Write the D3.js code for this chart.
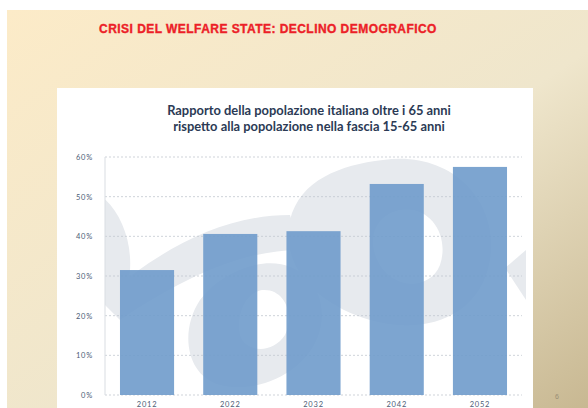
<!DOCTYPE html>
<html>
<head>
<meta charset="utf-8">
<script src="https://cdn.jsdelivr.net/npm/d3@7"></script>
<style>
  body { margin: 0; background: #fff; }
  svg { display: block; }
</style>
</head>
<body>
<svg width="588" height="408"></svg>
<script>
const years = ['2012', '2022', '2032', '2042', '2052'];
const ratios = [0.315, 0.406, 0.413, 0.532, 0.575];
const yTicks = [0, 0.1, 0.2, 0.3, 0.4, 0.5, 0.6];

const svg = d3.select('svg');

// slide background
const defs = svg.append('defs');
const grad = defs.append('linearGradient')
  .attr('id', 'bg')
  .attr('x1', '0%').attr('y1', '0%')
  .attr('x2', '100%').attr('y2', '100%');
grad.append('stop').attr('offset', '0%').attr('stop-color', '#fcebc8');
grad.append('stop').attr('offset', '55%').attr('stop-color', '#efe6cc');
grad.append('stop').attr('offset', '100%').attr('stop-color', '#c8b892');

svg.append('rect')
  .attr('x', 7).attr('y', 10)
  .attr('width', 581).attr('height', 398)
  .attr('fill', 'url(#bg)');

svg.append('text')
  .attr('x', 268)
  .attr('y', 33)
  .attr('text-anchor', 'middle')
  .style('font-family', 'Liberation Sans, Arial, sans-serif')
  .style('font-weight', 'bold')
  .style('font-size', '12px')
  .style('letter-spacing', '0.45px')
  .style('fill', '#ec2027')
  .style('stroke', '#ec2027')
  .style('stroke-width', '0.35px')
  .text('CRISI DEL WELFARE STATE: DECLINO DEMOGRAFICO');

svg.append('text')
  .attr('x', 557)
  .attr('y', 399)
  .attr('text-anchor', 'middle')
  .style('font-family', 'Liberation Sans, Arial, sans-serif')
  .style('font-size', '7px')
  .style('fill', '#9a8f76')
  .text('6');

// white chart panel
svg.append('rect')
  .attr('x', 57).attr('y', 88)
  .attr('width', 476).attr('height', 320)
  .attr('fill', '#fff');

const titleG = svg.append('text')
  .attr('text-anchor', 'middle')
  .style('font-family', 'Lato, sans-serif')
  .style('font-weight', 'bold')
  .style('font-size', '12.9px')
  .style('fill', '#2b3a55');
titleG.append('tspan').attr('x', 309).attr('y', 115)
  .text('Rapporto della popolazione italiana oltre i 65 anni');
titleG.append('tspan').attr('x', 309).attr('y', 131)
  .text('rispetto alla popolazione nella fascia 15-65 anni');

const pLeft = 105, pRight = 522, pTop = 157, pBottom = 395;

const x = d3.scaleBand()
  .domain(years)
  .range([pLeft, pRight])
  .paddingInner(0.35)
  .paddingOuter(0.18);

const y = d3.scaleLinear()
  .domain([0, 0.6])
  .range([pBottom, pTop]);

// watermark behind the bars
defs.append('clipPath').attr('id', 'plot')
  .append('rect').attr('x', pLeft).attr('y', pTop)
  .attr('width', pRight - pLeft + 4).attr('height', pBottom - pTop);
const wm = svg.append('g')
  .attr('clip-path', 'url(#plot)')
  .attr('fill', '#e7eaee');
wm.append('path')
  .attr('fill-rule', 'evenodd')
  .attr('d', 'M383,160 C450,150 500,200 490,260 C480,320 420,335 370,320 C320,305 280,270 290,220 C300,180 340,165 383,160 Z ' +
    'M400,210 C430,205 450,235 440,265 C430,290 395,290 380,265 C365,240 375,215 400,210 Z');
wm.append('path')
  .attr('fill-rule', 'evenodd')
  .attr('d', 'M255,265 C300,255 330,290 320,330 C310,370 260,395 220,385 C185,375 180,330 200,300 C215,280 235,270 255,265 Z ' +
    'M262,290 C285,288 295,315 285,335 C272,355 245,352 240,335 C236,315 245,293 262,290 Z');
wm.append('path')
  .attr('d', 'M100,300 C160,250 220,215 290,215 L300,250 C240,250 180,280 120,320 Z');
wm.append('path')
  .attr('d', 'M100,195 C120,210 132,240 130,270 C128,290 118,300 105,305 Z');
wm.append('path')
  .attr('d', 'M526,250 L505,268 L526,300 Z');

// gridlines
svg.append('g')
  .selectAll('line')
  .data(yTicks)
  .join('line')
  .attr('x1', pLeft)
  .attr('x2', pRight)
  .attr('y1', d => y(d))
  .attr('y2', d => y(d))
  .attr('stroke', '#c3c8cf')
  .attr('stroke-width', 0.8)
  .attr('stroke-dasharray', '2,2');

svg.append('line')
  .attr('x1', pLeft).attr('x2', pLeft)
  .attr('y1', pTop).attr('y2', pBottom)
  .attr('stroke', '#d9dde2')
  .attr('stroke-width', 1);

// bars
svg.append('g')
  .selectAll('rect')
  .data(ratios)
  .join('rect')
  .attr('x', (d, i) => x(years[i]))
  .attr('y', d => y(d))
  .attr('width', x.bandwidth())
  .attr('height', d => y(0) - y(d))
  .attr('fill', '#6f9bcb')
  .attr('fill-opacity', 0.9);

// axes
const yAxis = svg.append('g')
  .attr('transform', `translate(${pLeft - 9},0)`)
  .call(d3.axisLeft(y).tickValues(yTicks).tickFormat(d3.format('.0%')).tickSize(0));
yAxis.select('.domain').remove();

const xAxis = svg.append('g')
  .attr('transform', `translate(0,${pBottom + 3})`)
  .call(d3.axisBottom(x).tickSize(0));
xAxis.select('.domain').remove();

svg.selectAll('.tick text')
  .style('font-family', 'Lato, sans-serif')
  .style('font-size', '7.5px')
  .style('letter-spacing', '0.8px')
  .style('fill', '#4c5c75');
yAxis.selectAll('.tick text').attr('dy', '0.32em');
xAxis.selectAll('.tick text').attr('dy', '0.8em');
</script>
</body>
</html>
